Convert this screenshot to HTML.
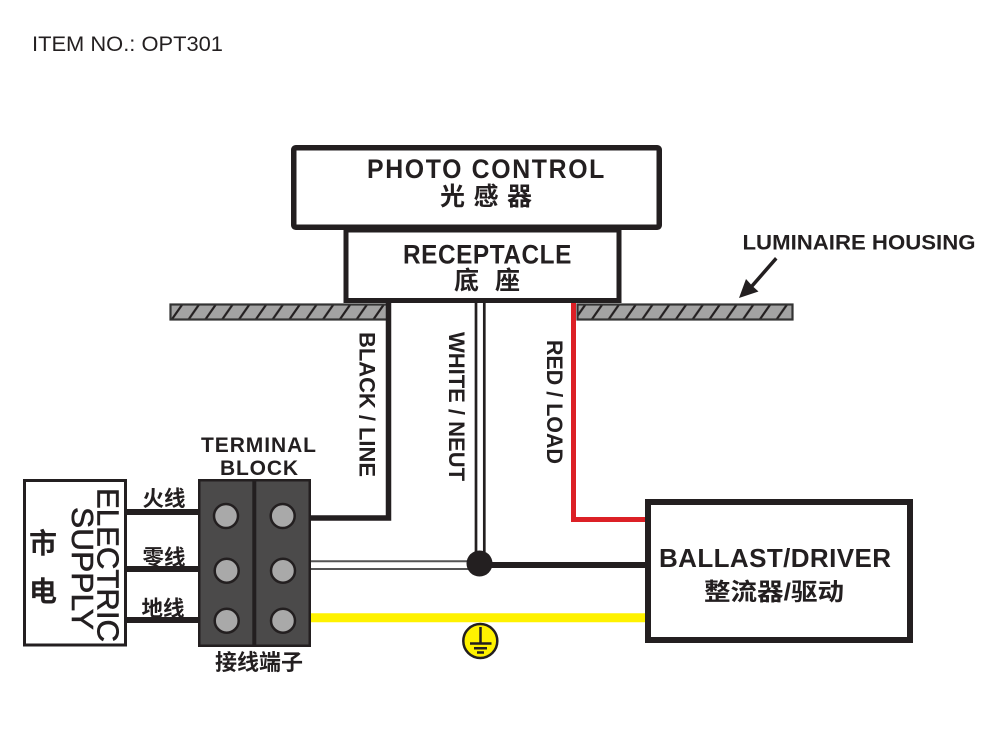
<!DOCTYPE html>
<html><head><meta charset="utf-8"><style>
html,body{margin:0;padding:0;background:#fff}
svg{display:block}
text{font-family:"Liberation Sans","Noto Sans CJK SC",sans-serif;fill:#231f20}
.b{font-weight:bold}
</style></head><body>
<svg width="989" height="744" viewBox="0 0 989 744" xmlns="http://www.w3.org/2000/svg">
<defs>
<pattern id="h" width="16.8" height="16" patternUnits="userSpaceOnUse" patternTransform="translate(172 304)">
<rect width="16.8" height="16" fill="#a3a3a3"/>
<path d="M-2 18L12 -2" stroke="#231f20" stroke-width="2.2"/>
<path d="M14.800 18L28.800 -2" stroke="#231f20" stroke-width="2.2"/>
</pattern>
</defs>
<text x="32" y="51" font-size="21" textLength="191" lengthAdjust="spacingAndGlyphs">ITEM NO.: OPT301</text>

<rect x="293.750" y="147.750" width="365.500" height="79.500" rx="2" fill="#fff" stroke="#231f20" stroke-width="5.500"/>
<text class="b" transform="translate(367 178) scale(.92 1)" font-size="27" textLength="258" lengthAdjust="spacing">PHOTO CONTROL</text>
<text class="b" x="440" y="205" font-size="25" textLength="92" lengthAdjust="spacing">光感器</text>
<rect x="346" y="230" width="273" height="70.500" fill="#fff" stroke="#231f20" stroke-width="5"/>
<path d="M346 227V232M619 227V232" stroke="#231f20" stroke-width="5"/>
<text class="b" transform="translate(403 263.500) scale(.92 1)" font-size="26.500" textLength="183" lengthAdjust="spacing">RECEPTACLE</text>
<text class="b" x="454" y="289" font-size="25" textLength="66" lengthAdjust="spacing">底座</text>

<text class="b" x="742.500" y="249.500" font-size="21.500" textLength="233" lengthAdjust="spacingAndGlyphs">LUMINAIRE HOUSING</text>
<path d="M739 298L746 279L751 284.500L775 257L777.500 259.500L753.500 287L758.500 291.500Z" fill="#231f20"/>

<rect x="170.500" y="304.500" width="217" height="15" fill="url(#h)" stroke="#333" stroke-width="2.200"/>
<rect x="577.500" y="304.500" width="215" height="15" fill="url(#h)" stroke="#333" stroke-width="2.200"/>

<path d="M388.500 302V518H311" fill="none" stroke="#231f20" stroke-width="5.500"/>
<path d="M476 302V552M484.300 302V552" stroke="#231f20" stroke-width="2.700" fill="none"/>
<path d="M311 561.300H470M311 569H470" stroke="#555" stroke-width="2" fill="none"/>
<path d="M573.500 303V519.500H646" fill="none" stroke="#dc2026" stroke-width="5"/>
<path d="M490 565H646" stroke="#231f20" stroke-width="6"/>
<path d="M311 617.700H646" stroke="#fff200" stroke-width="9"/>
<circle cx="479.500" cy="563.500" r="13" fill="#231f20"/>

<text class="b" transform="translate(359.500 332) rotate(90)" font-size="22" textLength="145" lengthAdjust="spacingAndGlyphs">BLACK / LINE</text>
<text class="b" transform="translate(449 332) rotate(90)" font-size="22" textLength="149" lengthAdjust="spacingAndGlyphs">WHITE / NEUT</text>
<text class="b" transform="translate(547 340) rotate(90)" font-size="22" textLength="124" lengthAdjust="spacingAndGlyphs">RED / LOAD</text>

<rect x="648" y="502" width="262" height="138" fill="#fff" stroke="#231f20" stroke-width="6"/>
<text class="b" x="659" y="567" font-size="26" textLength="232" lengthAdjust="spacing">BALLAST/DRIVER</text>
<text class="b" x="704" y="600" font-size="24" textLength="140" lengthAdjust="spacingAndGlyphs">整流器/驱动</text>

<rect x="24.500" y="480.500" width="101" height="164.500" fill="#fff" stroke="#231f20" stroke-width="3"/>
<text transform="translate(97.500 488) rotate(90)" font-size="31" textLength="154" lengthAdjust="spacingAndGlyphs" stroke="#231f20" stroke-width=".6">ELECTRIC</text>
<text transform="translate(72 507) rotate(90)" font-size="31" textLength="123" lengthAdjust="spacingAndGlyphs" stroke="#231f20" stroke-width=".6">SUPPLY</text>
<text class="b" x="29" y="553" font-size="28">市</text>
<text class="b" x="29" y="601" font-size="28">电</text>

<path d="M126 512H199M126 569H199M126 620H199" stroke="#231f20" stroke-width="6"/>
<text class="b" x="142.500" y="506" font-size="21.500">火线</text>
<text class="b" x="142.500" y="565" font-size="21.500">零线</text>
<text class="b" x="141.500" y="616" font-size="21.500">地线</text>

<text class="b" x="201" y="452" font-size="21" textLength="115" lengthAdjust="spacing">TERMINAL</text>
<text class="b" x="220" y="475" font-size="21" textLength="78" lengthAdjust="spacing">BLOCK</text>
<rect x="199.250" y="480.250" width="110.500" height="165.500" fill="#4b4a4a" stroke="#231f20" stroke-width="2.500"/>
<path d="M254.300 480V646" stroke="#231f20" stroke-width="4"/>
<g fill="#a9a9a9" stroke="#231f20" stroke-width="2.500">
<circle cx="226" cy="516" r="12"/><circle cx="282.700" cy="516" r="12"/>
<circle cx="226.700" cy="570.700" r="12"/><circle cx="283" cy="570.700" r="12"/>
<circle cx="226.700" cy="620.700" r="12"/><circle cx="283" cy="620.700" r="12"/>
</g>
<text class="b" x="215" y="670" font-size="22">接线端子</text>

<circle cx="480.300" cy="641" r="17" fill="#fff200" stroke="#231f20" stroke-width="2.500"/>
<path d="M480.500 627V643.500M470 643.500H491.500M474 648.300H487M477 652.500H484" stroke="#231f20" stroke-width="2.500" fill="none"/>
</svg>
</body></html>
